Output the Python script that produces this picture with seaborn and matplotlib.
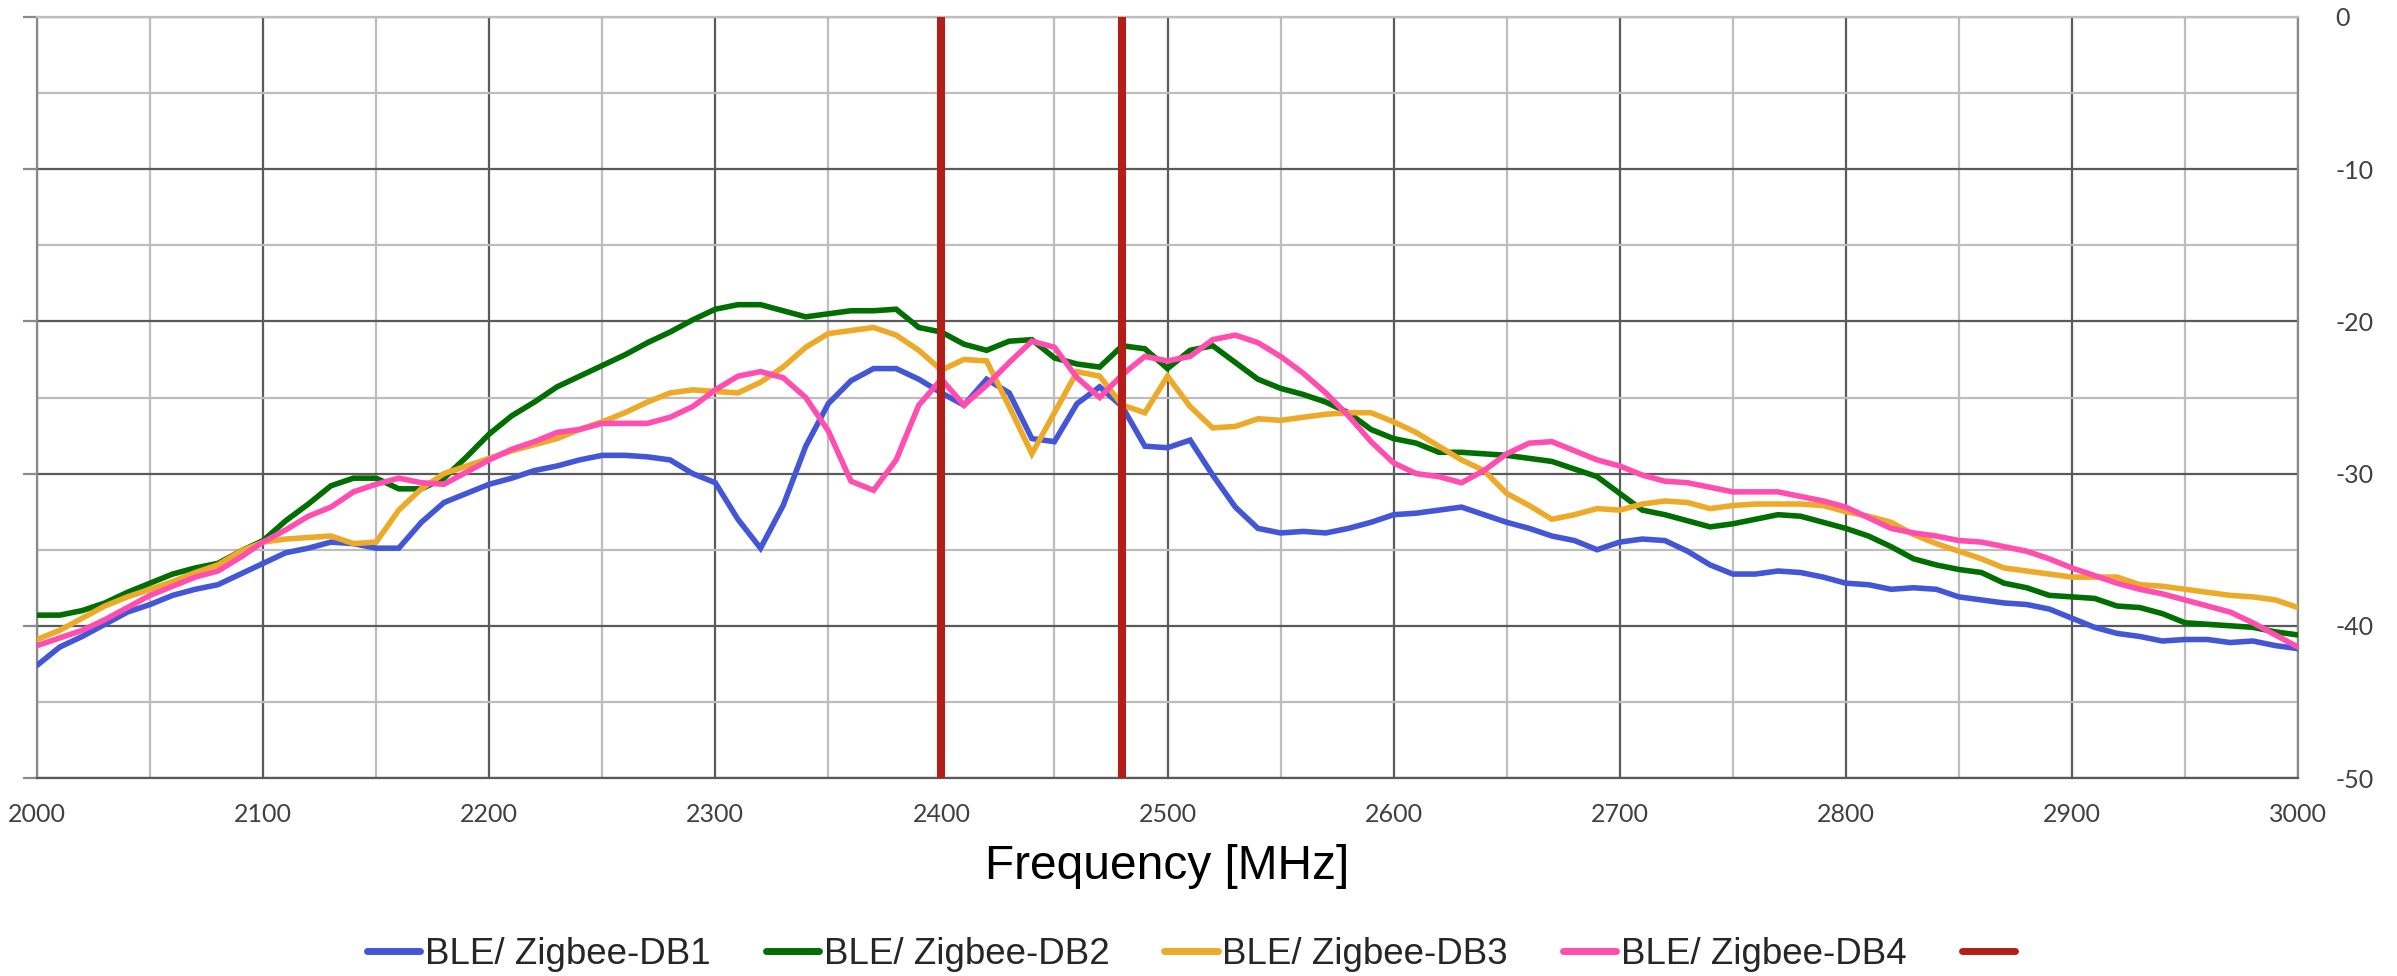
import numpy as np
import pandas as pd
import matplotlib
matplotlib.use("Agg")
import matplotlib.pyplot as plt
from matplotlib.lines import Line2D
from matplotlib.ticker import MultipleLocator
import seaborn as sns

# Frequency sweep (MHz) and measured levels (dB) for each board
freq = list(range(2000, 3001, 10))

db1 = [-42.6, -41.4, -40.7, -39.9, -39.1, -38.6, -38.0, -37.6, -37.3, -36.6,
       -35.9, -35.2, -34.9, -34.5, -34.6, -34.9, -34.9, -33.2, -31.9, -31.3,
       -30.7, -30.3, -29.8, -29.5, -29.1, -28.8, -28.8, -28.9, -29.1, -30.0,
       -30.6, -33.0, -34.9, -32.1, -28.2, -25.4, -23.9, -23.1, -23.1, -23.8,
       -24.7, -25.5, -23.8, -24.7, -27.7, -27.9, -25.4, -24.3, -25.6, -28.2,
       -28.3, -27.8, -30.1, -32.2, -33.6, -33.9, -33.8, -33.9, -33.6, -33.2,
       -32.7, -32.6, -32.4, -32.2, -32.7, -33.2, -33.6, -34.1, -34.4, -35.0,
       -34.5, -34.3, -34.4, -35.1, -36.0, -36.6, -36.6, -36.4, -36.5, -36.8,
       -37.2, -37.3, -37.6, -37.5, -37.6, -38.1, -38.3, -38.5, -38.6, -38.9,
       -39.5, -40.1, -40.5, -40.7, -41.0, -40.9, -40.9, -41.1, -41.0, -41.3,
       -41.5]

db2 = [-39.3, -39.3, -39.0, -38.5, -37.8, -37.2, -36.6, -36.2, -35.9, -35.1,
       -34.4, -33.1, -32.0, -30.8, -30.3, -30.3, -31.0, -31.0, -30.3, -28.9,
       -27.4, -26.2, -25.3, -24.3, -23.6, -22.9, -22.2, -21.4, -20.7, -19.9,
       -19.2, -18.9, -18.9, -19.3, -19.7, -19.5, -19.3, -19.3, -19.2, -20.4,
       -20.7, -21.5, -21.9, -21.3, -21.2, -22.4, -22.8, -23.0, -21.6, -21.8,
       -23.1, -21.9, -21.6, -22.7, -23.8, -24.4, -24.8, -25.3, -26.0, -27.1,
       -27.7, -28.0, -28.6, -28.6, -28.7, -28.8, -29.0, -29.2, -29.7, -30.2,
       -31.3, -32.4, -32.7, -33.1, -33.5, -33.3, -33.0, -32.7, -32.8, -33.2,
       -33.6, -34.1, -34.8, -35.6, -36.0, -36.3, -36.5, -37.2, -37.5, -38.0,
       -38.1, -38.2, -38.7, -38.8, -39.2, -39.8, -39.9, -40.0, -40.1, -40.4,
       -40.6]

db3 = [-40.9, -40.3, -39.5, -38.7, -38.1, -37.6, -37.1, -36.5, -36.0, -35.1,
       -34.5, -34.3, -34.2, -34.1, -34.6, -34.5, -32.4, -31.0, -30.0, -29.5,
       -29.0, -28.5, -28.1, -27.7, -27.1, -26.6, -26.0, -25.3, -24.7, -24.5,
       -24.6, -24.7, -24.0, -23.0, -21.7, -20.8, -20.6, -20.4, -20.9, -21.9,
       -23.2, -22.5, -22.6, -25.6, -28.7, -26.0, -23.3, -23.6, -25.5, -26.0,
       -23.6, -25.6, -27.0, -26.9, -26.4, -26.5, -26.3, -26.1, -26.0, -26.0,
       -26.6, -27.3, -28.2, -29.1, -29.8, -31.3, -32.1, -33.0, -32.7, -32.3,
       -32.4, -32.0, -31.8, -31.9, -32.3, -32.1, -32.0, -32.0, -32.0, -32.1,
       -32.5, -32.8, -33.2, -34.0, -34.6, -35.1, -35.6, -36.2, -36.4, -36.6,
       -36.8, -36.8, -36.8, -37.3, -37.4, -37.6, -37.8, -38.0, -38.1, -38.3,
       -38.8]

db4 = [-41.3, -40.8, -40.3, -39.6, -38.8, -38.0, -37.4, -36.8, -36.4, -35.5,
       -34.5, -33.7, -32.8, -32.2, -31.2, -30.7, -30.3, -30.6, -30.7, -29.9,
       -29.1, -28.4, -27.9, -27.3, -27.1, -26.7, -26.7, -26.7, -26.3, -25.6,
       -24.5, -23.6, -23.3, -23.7, -25.0, -27.2, -30.5, -31.1, -29.1, -25.5,
       -23.8, -25.5, -24.2, -22.7, -21.3, -21.7, -23.7, -25.0, -23.5, -22.3,
       -22.6, -22.3, -21.2, -20.9, -21.4, -22.3, -23.4, -24.7, -26.2, -27.9,
       -29.3, -30.0, -30.2, -30.6, -29.8, -28.7, -28.0, -27.9, -28.5, -29.1,
       -29.5, -30.1, -30.5, -30.6, -30.9, -31.2, -31.2, -31.2, -31.5, -31.8,
       -32.2, -32.9, -33.6, -33.9, -34.1, -34.4, -34.5, -34.8, -35.1, -35.6,
       -36.2, -36.7, -37.2, -37.6, -37.9, -38.3, -38.7, -39.1, -39.8, -40.6,
       -41.4]

series_names = ["BLE/ Zigbee-DB1", "BLE/ Zigbee-DB2", "BLE/ Zigbee-DB3", "BLE/ Zigbee-DB4"]
series_colors = ["#4356D6", "#006E00", "#ECAA28", "#FF4DB0"]
band_edges = [2400, 2480]
band_color = "#B41E19"

frames = []
for name, vals in zip(series_names, [db1, db2, db3, db4]):
    frames.append(pd.DataFrame({"freq": freq, "level": vals, "series": name}))
df = pd.concat(frames, ignore_index=True)

sns.set_style("white")
plt.rcParams["font.family"] = ["Liberation Sans", "DejaVu Sans"]
plt.rcParams["axes.unicode_minus"] = False

fig = plt.figure(figsize=(23.97, 9.76), dpi=100)
ax = fig.add_axes([37 / 2397, 1 - 778 / 976, (2298 - 37) / 2397, (778 - 17) / 976])

sns.lineplot(data=df, x="freq", y="level", hue="series", hue_order=series_names,
             palette=series_colors, linewidth=4.0, ax=ax, legend=False,
             solid_joinstyle="miter", zorder=3)

for f in band_edges:
    ax.axvline(f, color=band_color, linewidth=5.8, zorder=4)

ax.set_xlim(2000, 3000)
ax.set_ylim(-50, 0)
ax.xaxis.set_major_locator(MultipleLocator(100))
ax.xaxis.set_minor_locator(MultipleLocator(50))
ax.yaxis.set_major_locator(MultipleLocator(10))
ax.yaxis.set_minor_locator(MultipleLocator(5))

ax.grid(which="major", color="#5A5A5A", linewidth=1.6, zorder=1)
ax.grid(which="minor", color="#BDBDBD", linewidth=1.6, zorder=0)
ax.set_axisbelow(True)

for side in ["left", "bottom", "right", "top"]:
    ax.spines[side].set_visible(True)
    ax.spines[side].set_color("#8A8A8A")
    ax.spines[side].set_linewidth(1.6)
ax.spines["bottom"].set_color("#5A5A5A")
ax.spines["top"].set_color("#BDBDBD")

ax.tick_params(axis="x", which="both", length=0, pad=18, labelsize=18, labelcolor="#404040")
ax.tick_params(axis="y", which="major", left=True, right=False, labelleft=False,
               labelright=True, length=10, width=1.6, color="#8A8A8A",
               pad=17, labelsize=18, labelcolor="#404040")
ax.tick_params(axis="y", which="minor", left=False, right=False)
for lab in ax.get_xticklabels() + ax.get_yticklabels():
    lab.set_fontfamily(["Lato", "DejaVu Sans"])

ax.set_ylabel("")
ax.set_xlabel("Frequency [MHz]", fontsize=34.5, color="#000000", labelpad=13)

handles = [Line2D([], [], color=c, linewidth=5, solid_capstyle="round") for c in series_colors]
handles.append(Line2D([], [], color=band_color, linewidth=5, solid_capstyle="round"))
labels = series_names + [" "]
fig.legend(handles, labels, loc="center", bbox_to_anchor=(0.5, 1 - 954 / 976),
           ncol=5, frameon=False, fontsize=26.5, handlelength=1.45, handletextpad=0.12,
           columnspacing=1.5)

fig.savefig("out.png", dpi=100)
